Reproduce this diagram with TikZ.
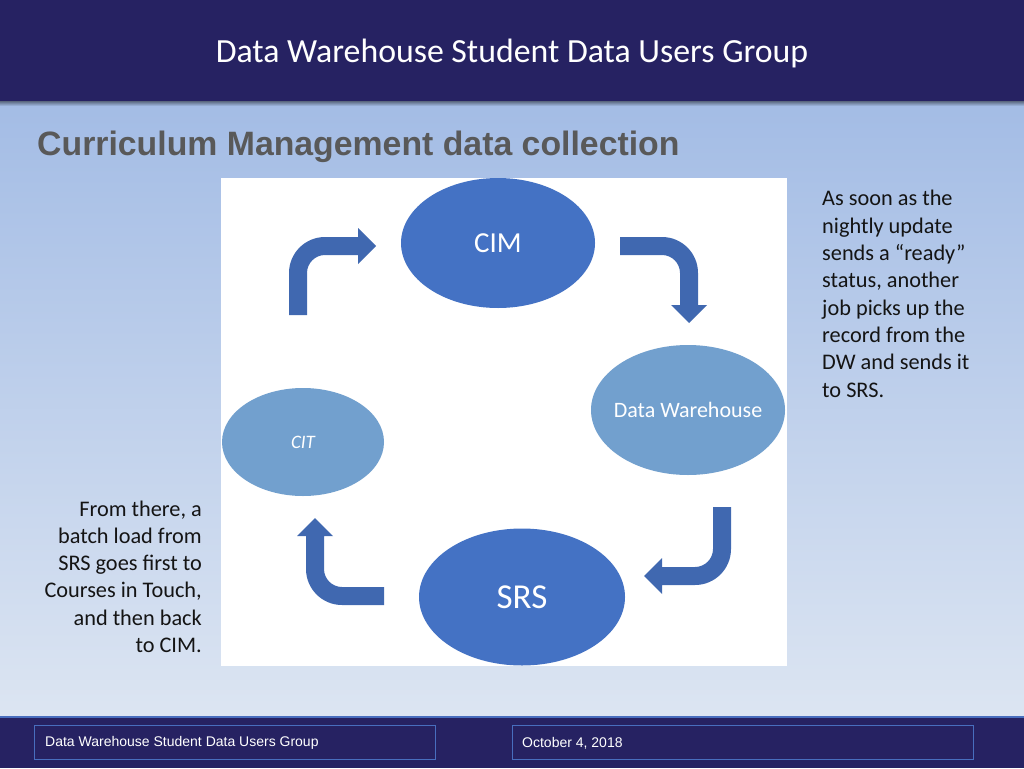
\documentclass[tikz,border=0pt]{standalone}
\usepackage{fontspec}
\setmainfont{Carlito}
\newfontfamily\arialfont{Liberation Sans}
\usetikzlibrary{shapes.geometric}
\definecolor{navy}{RGB}{38,34,98}
\definecolor{bgtop}{RGB}{163,188,229}
\definecolor{bgbot}{RGB}{220,229,242}
\definecolor{darkblob}{RGB}{68,114,196}
\definecolor{lightblob}{RGB}{114,160,206}
\definecolor{arrowblue}{RGB}{64,104,176}
\definecolor{subgray}{RGB}{89,89,89}
\definecolor{boxline}{RGB}{72,110,190}
\definecolor{bodytext}{RGB}{20,20,20}
\tikzset{
  blob/.style={ellipse, inner sep=0pt, inner xsep=-40pt, text=white},
  bent/.style={fill=arrowblue, draw=none},
  footbox/.style={draw=boxline, line width=1pt, fill=navy, anchor=north west, inner sep=0pt},
  foottext/.style={text=white, font=\arialfont\fontsize{14}{16}\selectfont, anchor=west, inner sep=0pt},
  bodypara/.style={text=bodytext, font=\fontsize{22.3}{27.3}\selectfont, inner sep=0pt}
}
\begin{document}
\begin{tikzpicture}[x=1pt,y=-1pt]
\useasboundingbox (0,0) rectangle (1024,768);
% background
\shade[top color=bgtop, bottom color=bgbot] (0,100) rectangle (1024,717);
% header
\fill[navy] (0,0) rectangle (1024,101);
\shade[top color=black!45!bgtop, bottom color=bgtop] (0,101) rectangle (1024,106);
\node[text=white, font=\fontsize{33.8}{38}\selectfont, anchor=base] (title) at (512,63) {Data Warehouse Student Data Users Group};
% subtitle
\node[text=subgray, font=\arialfont\bfseries\fontsize{33.8}{38}\selectfont, anchor=base west, inner sep=0pt] (sub) at (37,155) {Curriculum Management data collection};
% white panel
\fill[white] (221,178) rectangle (787,666);
% ellipses
\node[blob, fill=darkblob, minimum width=194pt, minimum height=130pt, font=\fontsize{29}{32}\selectfont] (cim) at (498,243) {CIM};
\node[blob, fill=lightblob, minimum width=194pt, minimum height=130pt, font=\fontsize{22}{26}\selectfont] (dw) at (688,410) {Data Warehouse};
\node[blob, fill=darkblob, minimum width=206pt, minimum height=137pt, font=\fontsize{35}{40}\selectfont] (srs) at (522,597) {SRS};
\node[blob, fill=lightblob, minimum width=162pt, minimum height=108pt, font=\itshape\fontsize{19}{22}\selectfont] (cit) at (303,442) {CIT};
% bent arrows
% CIT -> CIM (up then right)
\fill[bent] (289,315) -- (289,273) .. controls (289,253.1) and (305.1,237) .. (325,237)
  -- (358,237) -- (358,228) -- (376,246) -- (358,264) -- (358,255) -- (325,255)
  .. controls (315.1,255) and (307,263.1) .. (307,273) -- (307,315) -- cycle;
% CIM -> DW (right then down)
\fill[bent] (620,237) -- (662,237) .. controls (681.9,237) and (698,253.1) .. (698,273)
  -- (698,305) -- (707,305) -- (689,323) -- (671,305) -- (680,305) -- (680,273)
  .. controls (680,263.1) and (671.9,255) .. (662,255) -- (620,255) -- cycle;
% DW -> SRS (down then left)
\fill[bent] (713,507) -- (731,507) -- (731,549) .. controls (731,568.9) and (714.9,585) .. (695,585)
  -- (662,585) -- (662,594) -- (644,576) -- (662,558) -- (662,567) -- (695,567)
  .. controls (704.9,567) and (713,558.9) .. (713,549) -- cycle;
% SRS -> CIT (left then up)
\fill[bent] (384,587) -- (384,605) -- (342,605) .. controls (322.1,605) and (306,588.9) .. (306,569)
  -- (306,536) -- (297,536) -- (315,518) -- (333,536) -- (324,536) -- (324,569)
  .. controls (324,578.9) and (332.1,587) .. (342,587) -- cycle;
% side texts (base anchor = last line baseline)
\node[bodypara, align=left, anchor=base west] (right) at (822,397) {As soon as the\\nightly update\\sends a “ready”\\status, another\\job picks up the\\record from the\\DW and sends it\\to SRS.};
\node[bodypara, align=right, anchor=base east] (left) at (202,652.5) {From there, a\\batch load from\\SRS goes first to\\Courses in Touch,\\and then back\\to CIM.};
% footer
\fill[navy] (0,717) rectangle (1024,768);
\draw[boxline, line width=1.2pt] (0,717) -- (1024,717);
\draw[footbox] (34,725) rectangle (435,759);
\draw[footbox] (512,725) rectangle (973,759);
\node[foottext] (f1) at (45,743) {Data Warehouse Student Data Users Group};
\node[foottext] (f2) at (522,743) {October 4, 2018};
\end{tikzpicture}
\end{document}
